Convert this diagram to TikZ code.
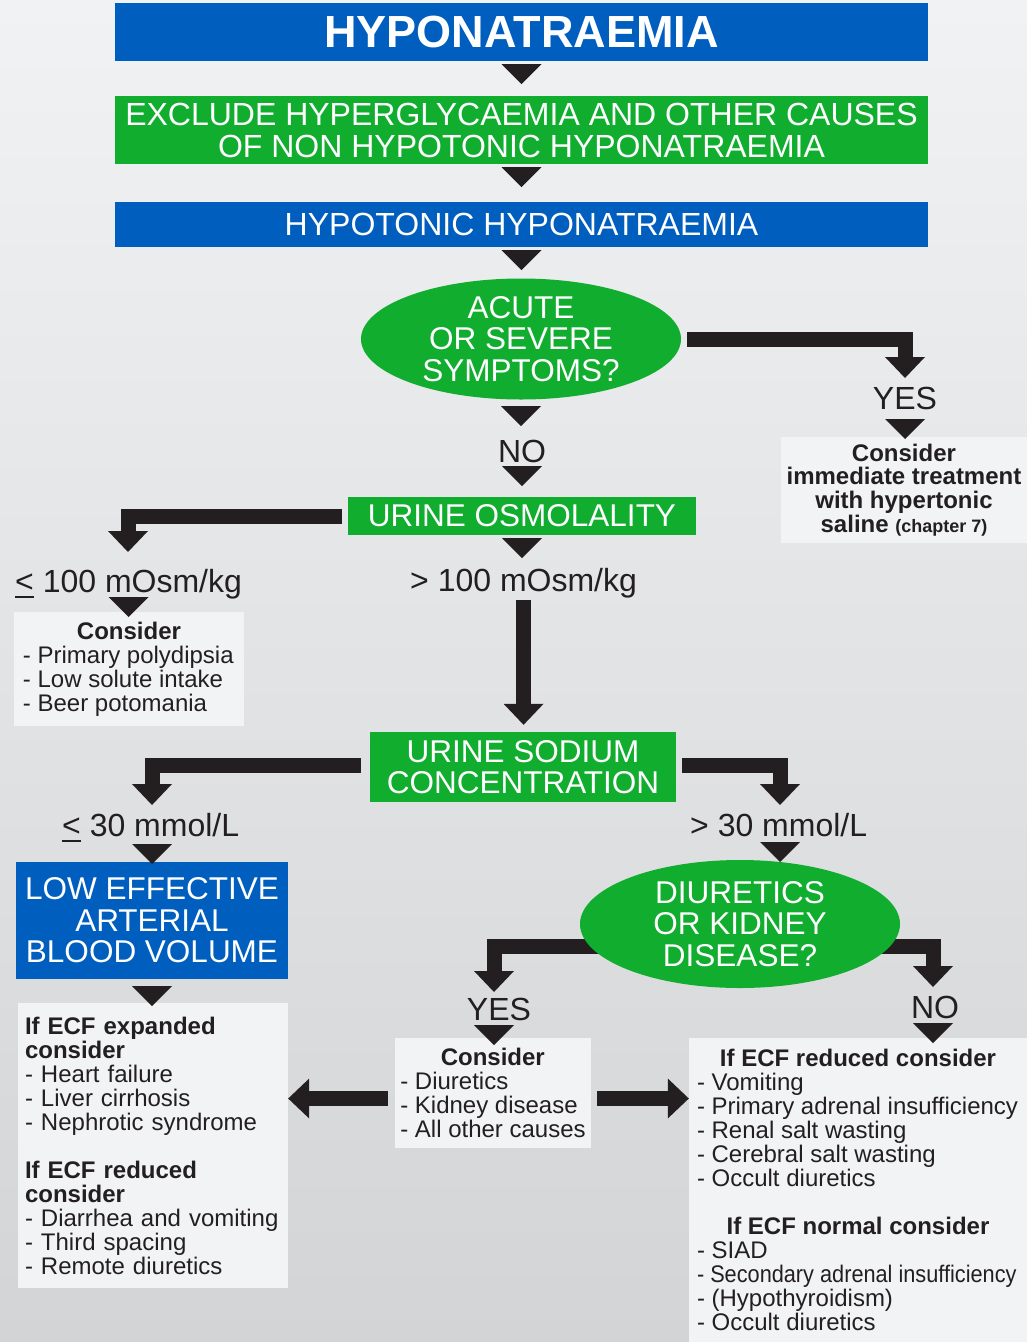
\documentclass[tikz,border=0pt]{standalone}
\usepackage{fontspec}
\setmainfont{Liberation Sans}
\usepackage{graphicx}
\usetikzlibrary{shapes.geometric,arrows.meta,calc}

\definecolor{hblue}{RGB}{0,94,190}
\definecolor{hgreen}{RGB}{17,173,47}
\definecolor{ink}{RGB}{35,31,32}
\definecolor{notefill}{RGB}{242,243,245}
\definecolor{bgtop}{RGB}{241,242,244}
\definecolor{bgbot}{RGB}{211,212,214}

\pgfdeclarelayer{back}
\pgfdeclarelayer{links}
\pgfsetlayers{back,links,main}

\newcommand{\cathead}[2]{\makebox[#1][c]{\bfseries #2}}
\newcommand{\ulle}{\rlap{\rule[-6pt]{19pt}{2.5pt}}<}

\begin{document}
\begin{tikzpicture}[x=1pt,y=1pt,
  hbox/.style={rectangle, inner sep=0pt, text=white, align=center, font=\fontsize{31.5}{31.5}\selectfont},
  bluebox/.style={hbox, fill=hblue},
  greenbox/.style={hbox, fill=hgreen},
  greenoval/.style={hbox, ellipse, fill=hgreen},
  branch/.style={inner sep=0pt, text=ink, font=\fontsize{32}{32}\selectfont},
  notebox/.style={rectangle, fill=notefill, text=ink, align=left, inner ysep=0pt, font=\fontsize{24}{24}\selectfont},
  fatarrow/.style={draw=ink, line width=15pt, -{Triangle[width=40pt,length=21pt,line width=0pt]}},
  dtri/.pic={\fill[ink] (-20,0) -- (20,0) -- (0,-20) -- cycle;}
]
\useasboundingbox (0,0) rectangle (1027,-1342);
\begin{pgfonlayer}{back}
\shade[top color=bgtop, bottom color=bgbot] (0,0) rectangle (1027,-1342);
\end{pgfonlayer}

% Main column
\node[bluebox, minimum width=813pt, minimum height=58pt, font=\fontsize{45}{45}\selectfont\bfseries] (title) at (521.5,-32) {HYPONATRAEMIA};
\node[greenbox, minimum width=813pt, minimum height=68pt, font=\fontsize{32}{32}\selectfont] (exclude) at (521.5,-130) {EXCLUDE HYPERGLYCAEMIA AND OTHER CAUSES\\OF NON HYPOTONIC HYPONATRAEMIA};
\node[bluebox, minimum width=813pt, minimum height=45pt, font=\fontsize{32}{32}\selectfont] (hypotonic) at (521.5,-224.5) {HYPOTONIC HYPONATRAEMIA};
\node[greenoval, minimum width=320pt, minimum height=121pt] (acute) at (521,-339) {ACUTE\\OR SEVERE\\SYMPTOMS?};
\node[branch, anchor=base] (yes1) at (905,-409) {YES};
\node[notebox, align=center, minimum width=246pt, minimum height=106pt, font=\fontsize{24}{23.7}\selectfont\bfseries] (immediate) at (904,-490) {Consider\\immediate treatment\\with hypertonic\\saline {\fontsize{18}{18}\selectfont(chapter 7)}};
\node[branch, anchor=base] (no1) at (522,-462) {NO};
\node[greenbox, minimum width=348pt, minimum height=38pt] (osmol) at (522,-516) {URINE OSMOLALITY};
\node[branch, anchor=base west] (le100) at (15,-592) {\ulle{} 100 mOsm/kg};
\node[branch, anchor=base west] (gt100) at (410,-591) {> 100 mOsm/kg};
\node[notebox, inner xsep=9pt, minimum width=230pt, minimum height=114pt] (lowosm) at (129,-669) {\cathead{212pt}{Consider}\\- Primary polydipsia\\- Low solute intake\\- Beer potomania};
\node[greenbox, minimum width=306pt, minimum height=70pt] (sodium) at (523,-767) {URINE SODIUM\\CONCENTRATION};
\node[branch, anchor=base west] (le30) at (62,-836) {\ulle{} 30 mmol/L};
\node[branch, anchor=base west] (gt30) at (690,-836) {> 30 mmol/L};
\node[bluebox, minimum width=272pt, minimum height=117pt] (lowvol) at (152,-920.5) {LOW EFFECTIVE\\ARTERIAL\\BLOOD VOLUME};
\node[greenoval, minimum width=320pt, minimum height=128pt] (diur) at (740,-924) {DIURETICS\\OR KIDNEY\\DISEASE?};
\node[branch, anchor=base] (yes2) at (499,-1020) {YES};
\node[branch, anchor=base] (no2) at (935,-1018) {NO};

% Consider boxes
\node[notebox, text width=256pt, inner xsep=7pt, minimum height=285pt] (ecfleft) at (153,-1145.5) {\textbf{If ECF expanded}\\\textbf{consider}\\- Heart failure\\- Liver cirrhosis\\- Nephrotic syndrome\\[24pt]\textbf{If ECF reduced}\\\textbf{consider}\\- Diarrhea and vomiting\\- Third spacing\\- Remote diuretics};
\node[notebox, inner xsep=5.5pt, minimum width=196pt, minimum height=110pt] (cons) at (493,-1093) {\cathead{185pt}{Consider}\\- Diuretics\\- Kidney disease\\- All other causes};
\node[notebox, inner xsep=8pt, minimum width=338pt, minimum height=304pt] (ecfright) at (858,-1190) {\cathead{322pt}{If ECF reduced consider}\\- Vomiting\\- Primary adrenal insufficiency\\- Renal salt wasting\\- Cerebral salt wasting\\- Occult diuretics\\[24pt]\cathead{322pt}{If ECF normal consider}\\- SIAD\\\scalebox{0.905}[1]{- Secondary adrenal insufficiency}\\- (Hypothyroidism)\\- Occult diuretics};

% Thick elbow arrows
\coordinate (acuteyes) at (905,-378);
\coordinate (lowosmtip) at (128,-552);
\coordinate (lownatip) at (152,-805);
\coordinate (highnatip) at (780,-805);
\coordinate (diuryes) at (494,-992);
\coordinate (diurno) at (933,-987);
\begin{pgfonlayer}{links}
\draw[fatarrow] ([xshift=6pt]acute.east) -| (acuteyes);
\draw[fatarrow] ([xshift=-6pt]osmol.west) -| (lowosmtip);
\draw[fatarrow, shorten >=7pt] ([yshift=-2pt]gt100.south) -- (gt100.south |- sodium.north);
\draw[fatarrow] ($(sodium.west)+(-9,1.5)$) -| (lownatip);
\draw[fatarrow] ($(sodium.east)+(6,1.5)$) -| (highnatip);
\draw[fatarrow] ($(diur.center)+(-130,-22.5)$) -| (diuryes);
\draw[fatarrow] ($(diur.center)+(130,-22.5)$) -| (diurno);
\draw[fatarrow, shorten <=7pt] ($(cons.west)+(0,-5.5)$) -- ($(cons.west -| ecfleft.east)+(0,-5.5)$);
\draw[fatarrow, shorten <=6pt] ($(cons.east)+(0,-5.5)$) -- ($(cons.east -| ecfright.west)+(0,-5.5)$);
\end{pgfonlayer}

% Small arrow heads
\pic at ($(title.south)+(0,-3)$) {dtri};
\pic at ($(exclude.south)+(0,-3)$) {dtri};
\pic at ($(hypotonic.south)+(0,-3)$) {dtri};
\pic at ($(acute.south)+(0,-6.5)$) {dtri};
\pic at ($(yes1.base)+(0,-10)$) {dtri};
\pic at ($(no1.base)+(0,-4)$) {dtri};
\pic at ($(osmol.south)+(0,-3)$) {dtri};
\pic at ($(le100.base)+(0,-5)$) {dtri};
\pic at ($(le30.base)+(1.5,-8)$) {dtri};
\pic at ($(gt30.base)+(1.5,-6)$) {dtri};
\pic at ($(lowvol.south)+(0,-7)$) {dtri};
\pic at ($(yes2.base)+(-5,-5)$) {dtri};
\pic at ($(no2.base)+(-2,-5)$) {dtri};
\end{tikzpicture}
\end{document}
